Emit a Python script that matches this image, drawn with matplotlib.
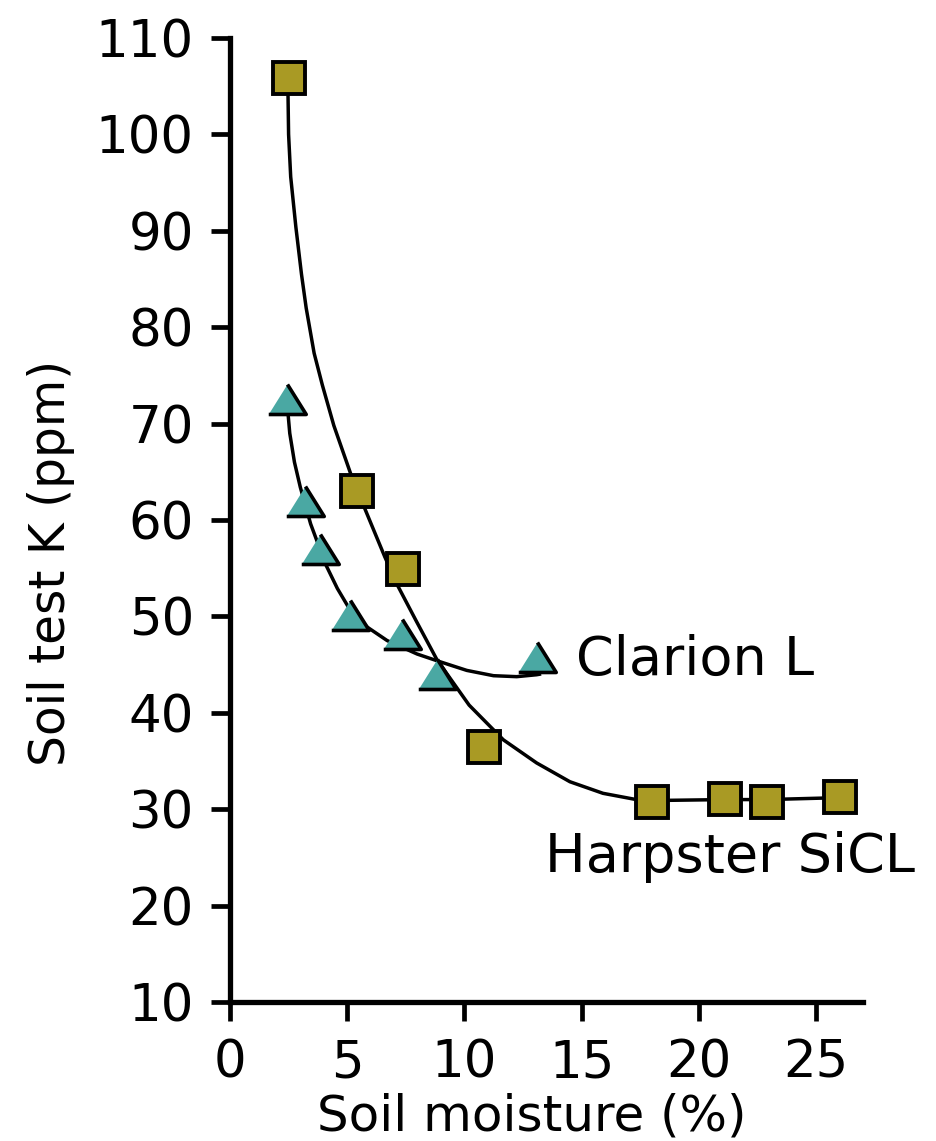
import matplotlib
matplotlib.use("Agg")
import matplotlib.pyplot as plt

# measured points
harpster_x = [2.52, 5.40, 7.38, 10.85, 18.0, 21.1, 22.9, 26.0]
harpster_y = [105.9, 63.0, 54.9, 36.5, 30.8, 31.1, 30.8, 31.3]
clarion_x = [2.42, 3.22, 3.84, 5.14, 7.34, 8.83, 13.08]
clarion_y = [72.6, 62.0, 57.0, 50.1, 48.2, 44.0, 45.8]

# fitted curves
harpster_fit_x = [2.47, 2.50, 2.59, 2.81, 3.05, 3.25, 3.59, 3.94, 4.43, 5.22, 6.60,
                  7.13, 7.95, 8.83, 10.2, 11.66, 13.08, 14.5, 15.91, 17.33, 18.0,
                  21.1, 22.9, 26.0]
harpster_fit_y = [105.0, 100.0, 95.6, 90.4, 85.5, 82.0, 77.3, 74.0, 69.8, 64.3, 56.2,
                  53.3, 49.5, 45.5, 40.8, 37.2, 34.8, 32.85, 31.65, 31.0, 30.9,
                  31.0, 31.0, 31.2]
clarion_fit_x = [2.42, 2.55, 2.75, 3.0, 3.44, 4.08, 4.58, 5.14, 5.85, 6.7, 7.34,
                 7.98, 8.83, 10.1, 11.24, 12.23, 13.08, 13.2]
clarion_fit_y = [72.6, 69.0, 66.0, 63.4, 59.6, 55.4, 52.9, 50.6, 48.9, 47.5, 46.8,
                 46.1, 45.4, 44.4, 43.85, 43.75, 43.95, 44.0]

x_ticks = [0, 5, 10, 15, 20, 25]
y_ticks = [10, 20, 30, 40, 50, 60, 70, 80, 90, 100, 110]

square_color = "#A99A24"
triangle_color = "#4AA8A3"
tri_marker = [(-1, -0.8), (1, -0.8), (0, 0.8)]

fig = plt.figure(figsize=(9.36, 11.41), dpi=100)
ax = fig.add_axes([0.2457, 0.1218, 0.6763, 0.8449])

ax.plot(harpster_fit_x, harpster_fit_y, color="black", lw=2.5, zorder=2,
        solid_joinstyle="round")
ax.plot(clarion_fit_x, clarion_fit_y, color="black", lw=2.5, zorder=2,
        solid_joinstyle="round")

ax.plot(clarion_x, clarion_y, linestyle="none", marker=tri_marker, ms=27,
        mfc=triangle_color, mec="black", mew=2.6, zorder=3, clip_on=False)
ax.plot(harpster_x, harpster_y, linestyle="none", marker="s", ms=23.5,
        mfc=square_color, mec="black", mew=2.8, zorder=3, clip_on=False)

ax.text(14.76, 45.5, "Clarion L", fontsize=39, ha="left", va="center")
ax.text(13.45, 25.0, "Harpster SiCL", fontsize=39, ha="left", va="center")

ax.set_xlim(0, 27)
ax.set_ylim(10, 110)
ax.set_xticks(x_ticks)
ax.set_yticks(y_ticks)

for side in ["top", "right"]:
    ax.spines[side].set_visible(False)
for side in ["left", "bottom"]:
    ax.spines[side].set_linewidth(3.8)

ax.tick_params(axis="both", direction="out", length=14, width=3.4,
               labelsize=37, pad=12)

ax.set_xlabel("Soil moisture (%)", fontsize=36)
ax.set_ylabel("Soil test K (ppm)", fontsize=35)
ax.xaxis.set_label_coords(0.477, -0.094)
ax.yaxis.set_label_coords(-0.245, 0.455)

fig.savefig("out.png", dpi=100)
